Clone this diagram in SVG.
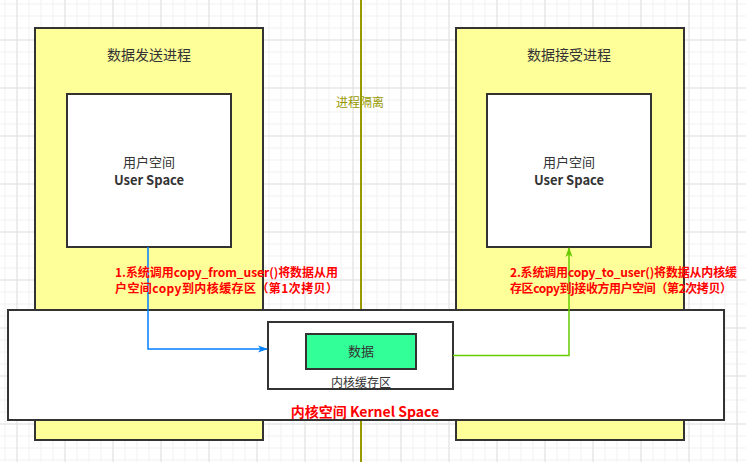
<svg xmlns="http://www.w3.org/2000/svg" width="746" height="462" viewBox="0 0 746 462">
<defs>
<pattern id="minor" x="4.5" y="3.5" width="12" height="12" patternUnits="userSpaceOnUse">
<path d="M0 0.5H12M0.5 0V12" fill="none" stroke="#f0f0f0" stroke-width="1"/>
</pattern>
<pattern id="major" x="16.5" y="39.5" width="48" height="48" patternUnits="userSpaceOnUse">
<path d="M0 0.5H48M0.5 0V48" fill="none" stroke="#e2e2e2" stroke-width="1"/>
</pattern>
<marker id="arrBlue" viewBox="0 0 10 10" refX="9" refY="5" markerWidth="10" markerHeight="10" markerUnits="userSpaceOnUse" orient="auto">
<path d="M0 1.5L10 5L0 8.5L2.5 5Z" fill="#007fff"/>
</marker>
<marker id="arrGreen" viewBox="0 0 10 10" refX="9" refY="5" markerWidth="10" markerHeight="10" markerUnits="userSpaceOnUse" orient="auto">
<path d="M0 1.5L10 5L0 8.5L2.5 5Z" fill="#66cc00"/>
</marker>
</defs>
<style>
.box{stroke:#333;stroke-width:2}
.proc{fill:#ffff99}
.white{fill:#fff}
.t{font-family:"Noto Sans CJK SC","Noto Sans",sans-serif;fill:#333;text-anchor:middle}
.red{font-family:"Noto Sans CJK SC","Noto Sans",sans-serif;fill:#ff0000;font-weight:bold;font-size:12px}
</style>
<rect width="746" height="462" fill="#fff"/>
<rect width="746" height="462" fill="url(#minor)"/>
<rect width="746" height="462" fill="url(#major)"/>
<g id="isolation">
<line x1="361" y1="0" x2="361" y2="462" stroke="#999900" stroke-width="2"/>
</g>
<g id="sender">
<rect class="box proc" x="35" y="28" width="228" height="412"/>
<text class="t" x="149" y="60" font-size="14">数据发送进程</text>
</g>
<g id="receiver">
<rect class="box proc" x="456" y="28" width="228" height="412"/>
<text class="t" x="569" y="60" font-size="14">数据接受进程</text>
</g>
<g id="isolation-label">
<text x="360" y="107" font-family="Noto Sans CJK SC,sans-serif" font-size="12" fill="#999900" text-anchor="middle">进程隔离</text>
</g>
<g id="userspace-left">
<rect class="box white" x="67" y="94" width="164" height="153"/>
<text class="t" x="149" y="167" font-size="13">用户空间</text>
<text class="t" x="149" y="185" font-size="13" font-weight="bold">User Space</text>
</g>
<g id="userspace-right">
<rect class="box white" x="487" y="94" width="164" height="153"/>
<text class="t" x="569" y="167" font-size="13">用户空间</text>
<text class="t" x="569" y="185" font-size="13" font-weight="bold">User Space</text>
</g>
<g id="kernel">
<rect class="box white" x="8" y="310" width="716" height="110"/>
<text x="365" y="417" font-family="Noto Sans CJK SC,sans-serif" font-size="14" font-weight="bold" fill="#ff0000" text-anchor="middle">内核空间 Kernel Space</text>
</g>
<g id="buffer">
<rect class="box white" x="268" y="322" width="185" height="67"/>
<text class="t" x="361" y="387" font-size="12">内核缓存区</text>
</g>
<g id="data">
<rect class="box" x="306" y="334" width="110" height="35" fill="#33ff99"/>
<text class="t" x="361" y="356" font-size="13">数据</text>
</g>
<g id="connectors">
<path d="M148 247V349H267" fill="none" stroke="#007fff" stroke-width="1.5" marker-end="url(#arrBlue)"/>
<path d="M453 355.5H569V248" fill="none" stroke="#66cc00" stroke-width="1.5" marker-end="url(#arrGreen)"/>
</g>
<g id="labels">
<text class="red" x="115" y="277" textLength="223">1.系统调用copy_from_user()将数据从用</text>
<text class="red" x="115" y="293" textLength="223">户空间copy到内核缓存区（第1次拷贝）</text>
<text class="red" x="510" y="277" textLength="227">2.系统调用copy_to_user()将数据从内核缓</text>
<text class="red" x="510" y="293" textLength="222">存区copy到j接收方用户空间（第2次拷贝）</text>
</g>
</svg>
